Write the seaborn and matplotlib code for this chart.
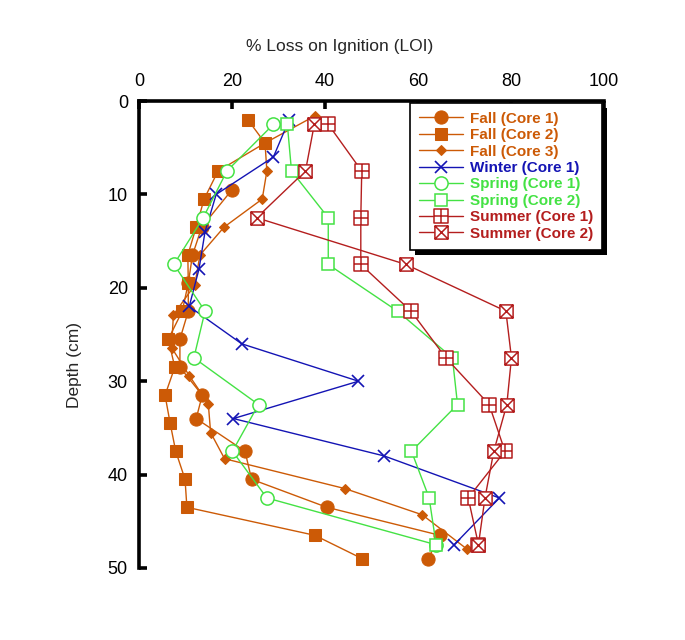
import numpy as np
import pandas as pd
import matplotlib
matplotlib.use("Agg")
import matplotlib.pyplot as plt
from matplotlib.path import Path
from matplotlib.patches import Rectangle
import seaborn as sns

# ---------------- data ----------------
fall1_depth = [9.5, 13.5, 16.5, 19.5, 22.5, 25.5, 28.5, 31.5, 34.0, 37.5, 40.5, 43.5, 46.5, 49.0]
fall1_loi = [20.0, 13.5, 11.5, 10.6, 10.6, 8.8, 8.8, 13.6, 12.3, 22.8, 24.2, 40.4, 64.7, 62.2]

fall2_depth = [2.0, 4.5, 7.5, 10.5, 13.5, 16.5, 19.5, 22.5, 25.5, 28.5, 31.5, 34.5, 37.5, 40.5, 43.5, 46.5, 49.0]
fall2_loi = [23.4, 27.1, 17.0, 14.0, 12.3, 10.5, 10.6, 9.3, 6.3, 7.7, 5.6, 6.7, 7.9, 9.9, 10.3, 37.8, 48.0]

fall3_depth = [1.6, 4.5, 7.5, 10.5, 13.5, 16.5, 19.7, 22.9, 26.4, 29.4, 32.4, 35.5, 38.3, 41.5, 44.3, 48.0]
fall3_loi = [37.8, 27.1, 27.5, 26.5, 18.3, 13.1, 12.0, 7.4, 7.0, 10.8, 14.9, 15.4, 18.4, 44.3, 60.9, 70.6]

winter1_depth = [2.0, 6.0, 10.0, 14.0, 18.0, 22.0, 26.0, 30.0, 34.0, 38.0, 42.5, 47.5]
winter1_loi = [32.3, 28.9, 16.6, 14.2, 12.9, 10.8, 22.1, 47.2, 20.3, 52.7, 77.5, 67.8]

spring_depth = [2.5, 7.5, 12.5, 17.5, 22.5, 27.5, 32.5, 37.5, 42.5, 47.5]
spring1_loi = [28.9, 18.9, 13.8, 7.5, 14.2, 11.8, 25.7, 20.1, 27.5, 63.8]
spring2_loi = [31.9, 32.8, 40.7, 40.7, 55.6, 67.4, 68.5, 58.6, 62.4, 63.9]

summer_depth = [2.5, 7.5, 12.5, 17.5, 22.5, 27.5, 32.5, 37.5, 42.5, 47.5]
summer1_loi = [40.7, 47.9, 47.7, 47.7, 58.5, 66.0, 75.3, 78.7, 70.8, 73.0]
summer2_loi = [37.7, 35.8, 25.3, 57.4, 78.9, 80.1, 79.1, 76.3, 74.4, 73.0]

series_labels = ["Fall (Core 1)", "Fall (Core 2)", "Fall (Core 3)", "Winter (Core 1)",
                 "Spring (Core 1)", "Spring (Core 2)", "Summer (Core 1)", "Summer (Core 2)"]

# ---------------- styling ----------------
sns.set_theme(style="white")
plt.rcParams["font.family"] = ["Liberation Sans", "DejaVu Sans"]

FALL = "#CC5A06"
WINTER = "#1414B4"
SPRING = "#44E244"
SUMMER = "#B41E1E"

# custom markers: square with plus, square with cross
sq_plus = Path([(-1, -1), (1, -1), (1, 1), (-1, 1), (-1, -1),
                (0, -1), (0, 1), (-1, 0), (1, 0)],
               [Path.MOVETO, Path.LINETO, Path.LINETO, Path.LINETO, Path.CLOSEPOLY,
                Path.MOVETO, Path.LINETO, Path.MOVETO, Path.LINETO])
sq_cross = Path([(-1, -1), (1, -1), (1, 1), (-1, 1), (-1, -1),
                 (-1, -1), (1, 1), (-1, 1), (1, -1)],
                [Path.MOVETO, Path.LINETO, Path.LINETO, Path.LINETO, Path.CLOSEPOLY,
                 Path.MOVETO, Path.LINETO, Path.MOVETO, Path.LINETO])

series = [
    (fall1_depth, fall1_loi, dict(color=FALL, marker="o", markersize=9.5, mfc=FALL, mec=FALL)),
    (fall2_depth, fall2_loi, dict(color=FALL, marker="s", markersize=8.5, mfc=FALL, mec=FALL)),
    (fall3_depth, fall3_loi, dict(color=FALL, marker="D", markersize=5.5, mfc=FALL, mec=FALL)),
    (winter1_depth, winter1_loi, dict(color=WINTER, marker="x", markersize=9, mew=1.2, mec=WINTER)),
    (spring_depth, spring1_loi, dict(color=SPRING, marker="o", markersize=9.5, mfc="white", mec=SPRING, mew=1.1)),
    (spring_depth, spring2_loi, dict(color=SPRING, marker="s", markersize=8.5, mfc="white", mec=SPRING, mew=1.1)),
    (summer_depth, summer1_loi, dict(color=SUMMER, marker=sq_plus, markersize=9.5, mfc="white", mec=SUMMER, mew=1.1)),
    (summer_depth, summer2_loi, dict(color=SUMMER, marker=sq_cross, markersize=9.5, mfc="white", mec=SUMMER, mew=1.1)),
]

fig = plt.figure(figsize=(6.85, 6.40), dpi=100)
ax = fig.add_axes([139 / 685, 1 - 568 / 640, 465 / 685, 467 / 640])

for (dep, loi, kw), lab in zip(series, series_labels):
    df = pd.DataFrame({"loi": loi, "depth": dep})
    sns.lineplot(data=df, x="loi", y="depth", orient="y", sort=False, estimator=None,
                 ax=ax, lw=1.0, label=lab, **kw)

ax.set_xlim(0, 100)
ax.set_ylim(50, 0)
ax.set_xticks(np.arange(0, 101, 20))
ax.set_yticks(np.arange(0, 51, 10))

ax.xaxis.set_label_position("top")
ax.xaxis.tick_top()
ax.set_xlabel("% Loss on Ignition (LOI)", fontsize=12.5)
ax.set_ylabel("Depth (cm)", fontsize=12.5)
ax.xaxis.set_label_coords((340 - 139) / 465, 1 + (101.5 - 47) / 467)
ax.yaxis.set_label_coords((75 - 139) / 465, 1 - (366 - 101.5) / 467)
ax.xaxis.label.set_va("center")
ax.yaxis.label.set_va("center")

for s in ["bottom", "right"]:
    ax.spines[s].set_visible(False)
for s in ["top", "left"]:
    ax.spines[s].set_visible(True)
    ax.spines[s].set_linewidth(2.6)
    ax.spines[s].set_color("black")

ax.tick_params(axis="both", which="major", direction="in", length=6, width=2.6,
               labelsize=13, colors="black", pad=8)
ax.tick_params(axis="x", top=True, bottom=False, labeltop=True, labelbottom=False)
ax.tick_params(axis="y", left=True, right=False)
ax.grid(False)

leg = ax.legend(loc="upper right", bbox_to_anchor=((602 - 139) / 465, 1 - (103 - 101.5) / 467),
                borderaxespad=0, labelspacing=0.16, handlelength=2.9,
                handletextpad=0.4, borderpad=0.6, frameon=True, fancybox=False,
                shadow=False, labelcolor="linecolor",
                prop={"weight": "bold", "size": 11})
leg.get_frame().set_edgecolor("black")
leg.get_frame().set_linewidth(1.2)
leg.get_frame().set_alpha(1.0)
leg.set_zorder(10)

# solid black drop shadow behind legend
fig.canvas.draw()
bb = leg.get_window_extent().transformed(ax.transAxes.inverted())
ax.add_patch(Rectangle((bb.x0 + 5 / 465, bb.y0 - 5 / 467), bb.width, bb.height,
                       transform=ax.transAxes, facecolor="black", edgecolor="none",
                       clip_on=False, zorder=9))

fig.savefig("out.png", dpi=100)
